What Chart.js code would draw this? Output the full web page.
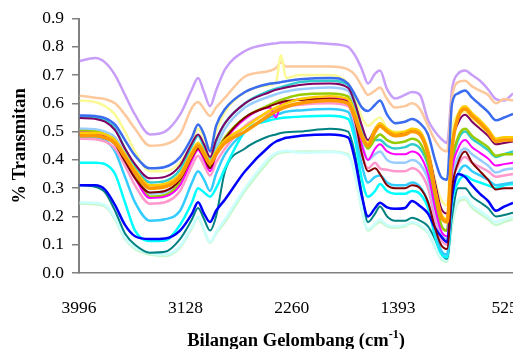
<!DOCTYPE html>
<html>
<head>
<meta charset="utf-8">
<script src="https://cdn.jsdelivr.net/npm/chart.js@4.4.1/dist/chart.umd.min.js"></script>
<style>
  html, body { margin: 0; padding: 0; background: #fff; overflow: hidden; }
</style>
</head>
<body>
<canvas id="myChart" width="513" height="349"></canvas>
<script>
var wavenumbers = [3990, 3865, 3784, 3702, 3621, 3539, 3417, 3295, 3172, 3074,
  3025, 2976, 2927, 2878, 2805, 2642, 2438,
  2389, 2348, 2307,
  2193, 1949, 1802,
  1745, 1688, 1639, 1581, 1541, 1483, 1418, 1337, 1280, 1215,
  1149, 1092, 1043, 994,
  953, 904, 847, 790, 725, 660, 595, 529, 456];

var xTickLabels = [3996, 3128, 2260, 1393, 525];
var yTickLabels = [0.0, 0.1, 0.2, 0.3, 0.4, 0.5, 0.6, 0.7, 0.8, 0.9];

var lavender = [0.75, 0.76, 0.745, 0.70, 0.63, 0.56, 0.49, 0.50, 0.56, 0.65,
  0.69, 0.64, 0.59, 0.645, 0.72, 0.785, 0.81,
  0.812, 0.815, 0.815,
  0.816, 0.81, 0.80,
  0.77, 0.72, 0.67, 0.705, 0.716, 0.65, 0.617, 0.63, 0.64, 0.63,
  0.54, 0.50, 0.475, 0.46,
  0.65, 0.705, 0.716, 0.70, 0.68, 0.65, 0.615, 0.61, 0.635];
var peach = [0.627, 0.62, 0.615, 0.60, 0.56, 0.51, 0.45, 0.455, 0.49, 0.585,
  0.605, 0.58, 0.555, 0.585, 0.62, 0.695, 0.715,
  0.725, 0.745, 0.73,
  0.73, 0.73, 0.72,
  0.70, 0.66, 0.63, 0.645, 0.656, 0.615, 0.585, 0.59, 0.60, 0.58,
  0.52, 0.47, 0.44, 0.43,
  0.62, 0.675, 0.68, 0.66, 0.645, 0.63, 0.60, 0.615, 0.61];
var lightYellow = [0.61, 0.605, 0.59, 0.56, 0.50, 0.43, 0.36, 0.36, 0.39, 0.46,
  0.51, 0.475, 0.44, 0.50, 0.57, 0.64, 0.665,
  0.675, 0.77, 0.69,
  0.70, 0.70, 0.67,
  0.62, 0.55, 0.52, 0.54, 0.55, 0.51, 0.50, 0.50, 0.51, 0.50,
  0.44, 0.33, 0.26, 0.24,
  0.50, 0.56, 0.57, 0.545, 0.52, 0.49, 0.455, 0.46, 0.47];
var royalBlue = [0.557, 0.555, 0.548, 0.525, 0.47, 0.415, 0.37, 0.375, 0.41, 0.48,
  0.525, 0.49, 0.43, 0.52, 0.58, 0.64, 0.67,
  0.672, 0.675, 0.678,
  0.685, 0.69, 0.67,
  0.63, 0.585, 0.573, 0.595, 0.61, 0.56, 0.53, 0.535, 0.545, 0.53,
  0.49, 0.40, 0.34, 0.33,
  0.60, 0.635, 0.645, 0.62, 0.595, 0.57, 0.54, 0.55, 0.563];
var purple = [0.548, 0.545, 0.535, 0.505, 0.44, 0.385, 0.335, 0.34, 0.38, 0.46,
  0.49, 0.455, 0.41, 0.47, 0.53, 0.60, 0.64,
  0.648, 0.652, 0.656,
  0.665, 0.67, 0.655,
  0.60, 0.52, 0.47, 0.51, 0.53, 0.50, 0.49, 0.495, 0.505, 0.49,
  0.43, 0.32, 0.23, 0.21,
  0.45, 0.53, 0.56, 0.535, 0.51, 0.485, 0.455, 0.46, 0.465];
var turquoise = [0.553, 0.55, 0.54, 0.51, 0.44, 0.375, 0.32, 0.325, 0.365, 0.45,
  0.485, 0.445, 0.40, 0.465, 0.53, 0.60, 0.645,
  0.652, 0.657, 0.662,
  0.675, 0.68, 0.665,
  0.60, 0.51, 0.45, 0.47, 0.47, 0.45, 0.44, 0.445, 0.455, 0.44,
  0.38, 0.26, 0.17, 0.15,
  0.38, 0.47, 0.50, 0.475, 0.455, 0.435, 0.41, 0.42, 0.43];
var lightBlue = [0.51, 0.508, 0.50, 0.48, 0.42, 0.35, 0.28, 0.285, 0.33, 0.42,
  0.455, 0.42, 0.38, 0.44, 0.51, 0.585, 0.625,
  0.632, 0.638, 0.642,
  0.65, 0.656, 0.645,
  0.58, 0.46, 0.40, 0.42, 0.43, 0.40, 0.39, 0.39, 0.40, 0.385,
  0.33, 0.22, 0.14, 0.12,
  0.33, 0.41, 0.44, 0.42, 0.40, 0.38, 0.355, 0.365, 0.37];
var yellowGreen = [0.502, 0.50, 0.49, 0.47, 0.41, 0.345, 0.27, 0.275, 0.32, 0.41,
  0.445, 0.41, 0.375, 0.425, 0.48, 0.55, 0.595,
  0.605, 0.612, 0.618,
  0.63, 0.635, 0.625,
  0.565, 0.48, 0.44, 0.475, 0.49, 0.47, 0.46, 0.465, 0.475, 0.46,
  0.39, 0.27, 0.17, 0.15,
  0.39, 0.48, 0.51, 0.485, 0.465, 0.445, 0.415, 0.42, 0.42];
var gold = [0.495, 0.495, 0.49, 0.47, 0.42, 0.365, 0.31, 0.315, 0.35, 0.43,
  0.46, 0.43, 0.395, 0.43, 0.47, 0.515, 0.575,
  0.585, 0.592, 0.60,
  0.615, 0.625, 0.615,
  0.565, 0.49, 0.46, 0.51, 0.53, 0.51, 0.495, 0.50, 0.51, 0.50,
  0.43, 0.30, 0.21, 0.19,
  0.45, 0.56, 0.59, 0.565, 0.54, 0.51, 0.475, 0.48, 0.48];
var orange = [0.485, 0.485, 0.478, 0.46, 0.41, 0.355, 0.30, 0.305, 0.34, 0.42,
  0.45, 0.42, 0.386, 0.42, 0.46, 0.50, 0.56,
  0.572, 0.58, 0.588,
  0.60, 0.61, 0.60,
  0.55, 0.48, 0.45, 0.50, 0.52, 0.50, 0.485, 0.49, 0.50, 0.49,
  0.42, 0.29, 0.20, 0.18,
  0.44, 0.55, 0.58, 0.555, 0.53, 0.50, 0.465, 0.47, 0.47];
var magenta = [0.497, 0.495, 0.485, 0.46, 0.40, 0.335, 0.265, 0.27, 0.31, 0.40,
  0.435, 0.40, 0.36, 0.415, 0.47, 0.545, 0.585,
  0.55, 0.60, 0.605,
  0.615, 0.62, 0.61,
  0.55, 0.45, 0.40, 0.44, 0.455, 0.43, 0.42, 0.42, 0.43, 0.415,
  0.35, 0.23, 0.15, 0.13,
  0.36, 0.44, 0.47, 0.445, 0.425, 0.405, 0.38, 0.385, 0.39];
var darkRed = [0.49, 0.488, 0.48, 0.455, 0.395, 0.335, 0.285, 0.29, 0.33, 0.41,
  0.44, 0.41, 0.37, 0.42, 0.475, 0.55, 0.59,
  0.598, 0.604, 0.608,
  0.612, 0.615, 0.605,
  0.54, 0.42, 0.36, 0.37, 0.35, 0.31, 0.30, 0.30, 0.31, 0.30,
  0.25, 0.16, 0.10, 0.085,
  0.30, 0.39, 0.43, 0.39, 0.36, 0.33, 0.295, 0.30, 0.30];
var pink = [0.475, 0.473, 0.465, 0.44, 0.38, 0.31, 0.245, 0.25, 0.29, 0.38,
  0.415, 0.38, 0.345, 0.39, 0.44, 0.52, 0.57,
  0.578, 0.584, 0.588,
  0.595, 0.60, 0.59,
  0.53, 0.42, 0.37, 0.39, 0.37, 0.365, 0.36, 0.36, 0.37, 0.355,
  0.30, 0.19, 0.12, 0.10,
  0.31, 0.38, 0.41, 0.39, 0.375, 0.36, 0.34, 0.345, 0.35];
var skyBlue = [0.48, 0.478, 0.47, 0.43, 0.34, 0.25, 0.185, 0.19, 0.22, 0.32,
  0.36, 0.33, 0.29, 0.35, 0.42, 0.50, 0.55,
  0.558, 0.565, 0.57,
  0.575, 0.58, 0.57,
  0.50, 0.38, 0.32, 0.34, 0.345, 0.32, 0.31, 0.31, 0.32, 0.305,
  0.25, 0.15, 0.08, 0.065,
  0.27, 0.35, 0.38, 0.36, 0.345, 0.33, 0.31, 0.315, 0.32];
var cyan = [0.39, 0.39, 0.385, 0.35, 0.25, 0.15, 0.113, 0.115, 0.17, 0.25,
  0.30, 0.285, 0.27, 0.30, 0.37, 0.50, 0.54,
  0.545, 0.548, 0.55,
  0.553, 0.556, 0.545,
  0.47, 0.33, 0.27, 0.29, 0.315, 0.29, 0.28, 0.28, 0.29, 0.28,
  0.23, 0.13, 0.07, 0.055,
  0.25, 0.32, 0.345, 0.33, 0.32, 0.31, 0.30, 0.31, 0.315];
var blue = [0.31, 0.31, 0.295, 0.24, 0.17, 0.13, 0.12, 0.122, 0.15, 0.21,
  0.25, 0.21, 0.18, 0.22, 0.26, 0.36, 0.45,
  0.465, 0.472, 0.478,
  0.485, 0.49, 0.48,
  0.40, 0.27, 0.20, 0.23, 0.248, 0.232, 0.227, 0.23, 0.255, 0.237,
  0.21, 0.16, 0.13, 0.11,
  0.27, 0.35, 0.34, 0.31, 0.28, 0.255, 0.22, 0.235, 0.248];
var teal = [0.31, 0.305, 0.285, 0.22, 0.14, 0.10, 0.072, 0.075, 0.12, 0.19,
  0.23, 0.19, 0.15, 0.20, 0.36, 0.44, 0.485,
  0.49, 0.495, 0.498,
  0.50, 0.51, 0.50,
  0.42, 0.28, 0.18, 0.21, 0.235, 0.20, 0.185, 0.185, 0.195, 0.185,
  0.165, 0.12, 0.07, 0.05,
  0.20, 0.30, 0.30, 0.27, 0.25, 0.23, 0.20, 0.205, 0.213];
var paleGreen = [0.245, 0.243, 0.235, 0.19, 0.12, 0.085, 0.065, 0.06, 0.09, 0.16,
  0.195, 0.15, 0.107, 0.14, 0.18, 0.29, 0.40,
  0.42, 0.425, 0.428,
  0.43, 0.43, 0.42,
  0.35, 0.22, 0.15, 0.17, 0.18, 0.165, 0.16, 0.165, 0.177, 0.165,
  0.14, 0.09, 0.05, 0.04,
  0.17, 0.25, 0.26, 0.23, 0.21, 0.19, 0.17, 0.18, 0.19];
var lightCyan = [0.25, 0.248, 0.24, 0.195, 0.125, 0.09, 0.07, 0.065, 0.095, 0.165,
  0.20, 0.155, 0.11, 0.145, 0.19, 0.30, 0.41,
  0.425, 0.43, 0.432,
  0.425, 0.428, 0.415,
  0.35, 0.225, 0.155, 0.175, 0.19, 0.17, 0.165, 0.17, 0.18, 0.17,
  0.145, 0.095, 0.055, 0.045,
  0.18, 0.26, 0.27, 0.24, 0.22, 0.20, 0.18, 0.19, 0.20];

// first in the list is drawn on top
var series = [
  ['orange', orange, '#FF9900', 3.5],
  ['gold', gold, '#FFCC00', 2.5],
  ['purple', purple, '#800066', 2],
  ['darkRed', darkRed, '#800000', 2],
  ['blue', blue, '#0000FF', 2.5],
  ['royalBlue', royalBlue, '#3A6CF0', 2.5],
  ['magenta', magenta, '#FF00FF', 2],
  ['yellowGreen', yellowGreen, '#99CC00', 2.5],
  ['turquoise', turquoise, '#33CCCC', 2.5],
  ['lightBlue', lightBlue, '#99CCFF', 2.5],
  ['pink', pink, '#FF99CC', 2.5],
  ['skyBlue', skyBlue, '#33CCFF', 2.5],
  ['cyan', cyan, '#00FFFF', 2.5],
  ['teal', teal, '#008080', 2],
  ['lightYellow', lightYellow, '#FAFA96', 2.5],
  ['peach', peach, '#FCC89C', 2.5],
  ['lavender', lavender, '#C89EF8', 2.5],
  ['lightCyan', lightCyan, '#CCFFFF', 2.5],
  ['paleGreen', paleGreen, '#C8F8CC', 2.5]
];

var serif = '"Liberation Serif", "Times New Roman", serif';

var datasets = series.map(function (s) {
  return {
    label: s[0],
    data: wavenumbers.map(function (w, i) { return { x: w, y: s[1][i] }; }),
    borderColor: s[2],
    borderWidth: s[3],
    pointRadius: 0,
    fill: false,
    cubicInterpolationMode: 'monotone'
  };
});

// x title with a raised "-1"
var xTitle = {
  id: 'xTitle',
  afterDraw: function (chart) {
    var c = chart.ctx, area = chart.chartArea;
    var big = 'bold 18.5px ' + serif, small = 'bold 12px ' + serif;
    var main = 'Bilangan Gelombang (cm', sup = '-1', tail = ')';
    c.save();
    c.fillStyle = '#000';
    c.textBaseline = 'alphabetic';
    c.textAlign = 'left';
    c.font = big;
    var w1 = c.measureText(main).width, w3 = c.measureText(tail).width;
    c.font = small;
    var w2 = c.measureText(sup).width;
    var x = (area.left + area.right) / 2 - (w1 + w2 + w3) / 2;
    var y = chart.height - 3;
    c.font = big;
    c.fillText(main, x, y);
    c.font = small;
    c.fillText(sup, x + w1, y - 8);
    c.font = big;
    c.fillText(tail, x + w1 + w2, y);
    c.restore();
  }
};

var ctx = document.getElementById('myChart');
var SpectraChart = new Chart(ctx, {
  type: 'line',
  data: { datasets: datasets },
  options: {
    responsive: false,
    animation: false,
    layout: { padding: { top: 18, left: 0, right: 0, bottom: 0 } },
    plugins: { legend: { display: false }, tooltip: { enabled: false } },
    scales: {
      x: {
        type: 'linear',
        reverse: true,
        min: 456,
        max: 3996,
        grid: { display: false },
        border: { display: true, color: '#808080', width: 1.5 },
        afterBuildTicks: function (scale) {
          scale.ticks = xTickLabels.map(function (v) { return { value: v }; });
        },
        afterFit: function (scale) {
          scale.height = 76;
          scale.paddingLeft = 0;
          scale.paddingRight = 0;
        },
        ticks: {
          autoSkip: false,
          maxRotation: 0,
          padding: 17,
          color: '#000',
          font: { family: serif, size: 17.5 },
          callback: function (v) { return String(v); }
        }
      },
      y: {
        min: 0,
        max: 0.9,
        grid: { display: true, drawOnChartArea: false, drawTicks: true, tickLength: 7, color: '#808080', lineWidth: 1.5 },
        border: { display: true, color: '#808080', width: 2 },
        afterBuildTicks: function (scale) {
          scale.ticks = yTickLabels.map(function (v) { return { value: v }; });
        },
        afterFit: function (scale) {
          scale.width = 79;
        },
        ticks: {
          padding: 8,
          color: '#000',
          font: { family: serif, size: 17.5 },
          callback: function (v) { return v.toFixed(1); }
        },
        title: {
          display: true,
          text: '% Transmitan',
          color: '#000',
          font: { family: serif, size: 18.5, weight: 'bold' },
          padding: { top: 9, bottom: 0 }
        }
      }
    }
  },
  plugins: [xTitle]
});
</script>
</body>
</html>
